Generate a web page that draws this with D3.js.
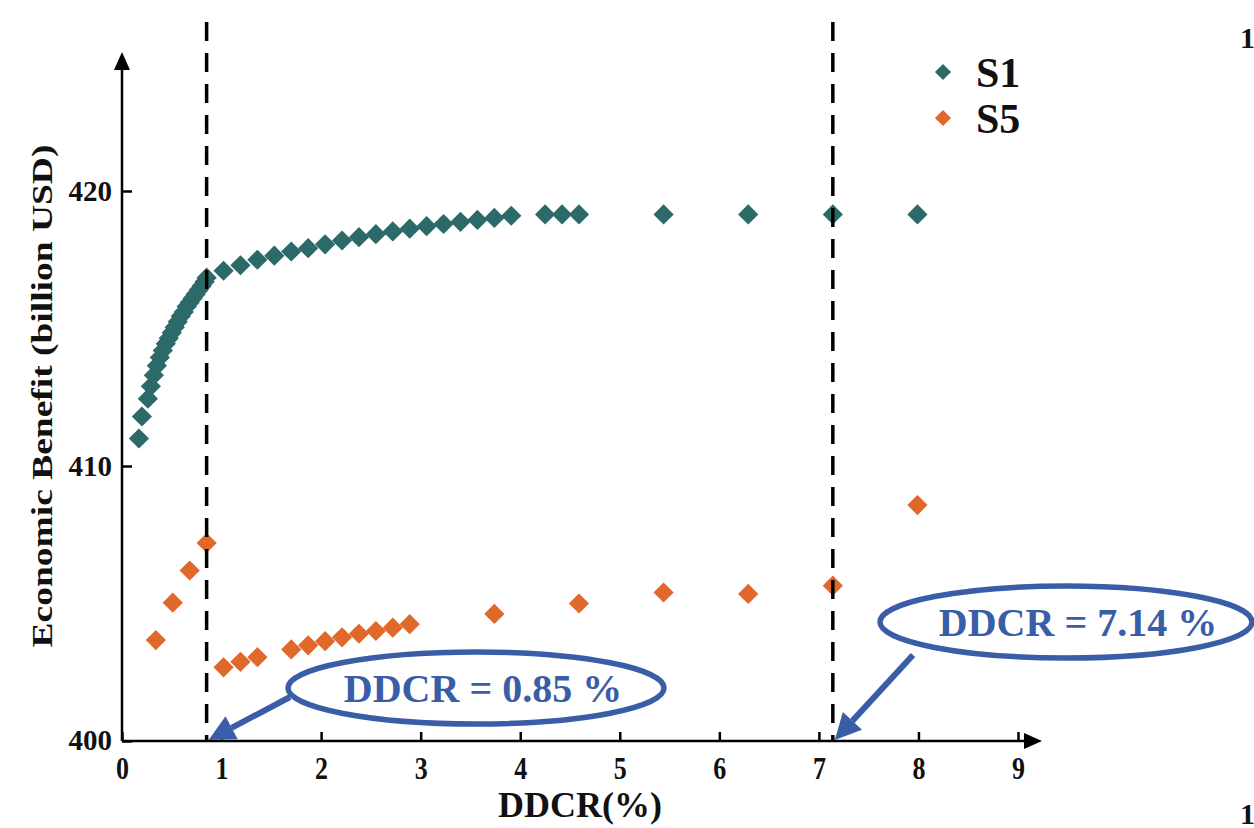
<!DOCTYPE html>
<html lang="en">
<head>
    <meta charset="UTF-8">
    <title>Economic Benefit vs DDCR</title>
    <script src="https://d3js.org/d3.v7.min.js"></script>
    <style>
        body { margin: 0; background: #fff; }
        svg text { font-family: "Liberation Serif", "Times New Roman", serif; font-weight: bold; }
    </style>
</head>
<body>
    <svg width="1254" height="828"></svg>

    <script>
        // S1 series
        const s1X = [0.17, 0.20, 0.26, 0.29, 0.32, 0.35, 0.38, 0.41, 0.44, 0.47, 0.50, 0.53, 0.56, 0.59, 0.62,
            0.65, 0.68, 0.71, 0.74, 0.77, 0.80, 0.83, 0.85,
            1.02, 1.19, 1.36, 1.53, 1.70, 1.87, 2.04, 2.21, 2.38, 2.55, 2.72, 2.89, 3.06, 3.23, 3.40, 3.57, 3.74, 3.91,
            4.25, 4.42, 4.59, 5.44, 6.29, 7.14, 7.99];
        const s1Y = [411.0, 411.8, 412.45, 412.9, 413.3, 413.65, 413.95, 414.2, 414.45, 414.65, 414.85, 415.05, 415.25, 415.45, 415.6,
            415.8, 415.95, 416.1, 416.25, 416.4, 416.55, 416.7, 416.85,
            417.1, 417.3, 417.5, 417.65, 417.8, 417.92, 418.06, 418.2, 418.32, 418.43, 418.53, 418.63, 418.72, 418.8, 418.88, 418.95, 419.02, 419.1,
            419.15, 419.15, 419.15, 419.15, 419.15, 419.15, 419.15];

        // S5 series
        const s5X = [0.34, 0.51, 0.68, 0.85, 1.02, 1.19, 1.36, 1.70, 1.87, 2.04, 2.21, 2.38, 2.55, 2.72, 2.89,
            3.74, 4.59, 5.44, 6.29, 7.14, 7.99];
        const s5Y = [403.67, 405.03, 406.2, 407.2, 402.68, 402.88, 403.05, 403.33, 403.48, 403.63, 403.77, 403.9, 404.0, 404.12, 404.25,
            404.62, 405.0, 405.4, 405.35, 405.65, 408.58];

        const xTicks = [0, 1, 2, 3, 4, 5, 6, 7, 8, 9];
        const yTicks = [400, 410, 420];
        const markLines = [0.85, 7.14];
        const seriesNames = ["S1", "S5"];
        const colors = ["#2b6a69", "#e0682b"];
        const blue = "#3a5da8";

        const svg = d3.select("svg");

        const x = d3.scaleLinear().domain([0, 9]).range([122, 1018]);
        const y = d3.scaleLinear().domain([400, 420]).range([741, 191]);

        // axes
        const xAxis = svg.append("g")
            .attr("transform", `translate(0,${y(400)})`)
            .call(d3.axisBottom(x).tickValues(xTicks).tickSizeInner(-9).tickSizeOuter(0).tickFormat(d3.format("d")));
        xAxis.select(".domain").remove();
        xAxis.selectAll("line").attr("stroke", "#000").attr("stroke-width", 2.5);
        xAxis.selectAll("text")
            .attr("y", 0).attr("dy", null)
            .attr("transform", "translate(0,38) scale(1,1.2)")
            .style("font-size", "26px").attr("fill", "#111");

        const yAxis = svg.append("g")
            .attr("transform", `translate(${x(0)},0)`)
            .call(d3.axisLeft(y).tickValues(yTicks).tickSizeInner(-10).tickSizeOuter(0).tickPadding(10));
        yAxis.select(".domain").remove();
        yAxis.selectAll("line").attr("stroke", "#000").attr("stroke-width", 2.5);
        yAxis.selectAll("text").style("font-size", "29px").attr("fill", "#111");
        yAxis.selectAll(".tick").filter(d => d === 400).select("text").attr("dy", "0.3em");

        // axis lines with arrow heads
        svg.append("line").attr("x1", x(0)).attr("x2", x(0)).attr("y1", y(400)).attr("y2", 66)
            .attr("stroke", "#000").attr("stroke-width", 2.5);
        svg.append("path").attr("d", `M${x(0) - 8},70 L${x(0)},52 L${x(0) + 8},70 Z`).attr("fill", "#000");
        svg.append("line").attr("x1", x(0)).attr("x2", 1028).attr("y1", y(400)).attr("y2", y(400))
            .attr("stroke", "#000").attr("stroke-width", 2.5);
        svg.append("path").attr("d", `M1024,${y(400) - 8} L1042,${y(400)} L1024,${y(400) + 8} Z`).attr("fill", "#000");

        // axis titles
        svg.append("text").attr("x", 580).attr("y", 817).attr("text-anchor", "middle")
            .style("font-size", "36px").attr("fill", "#111").text("DDCR(%)");
        svg.append("text").attr("transform", "translate(52,396) rotate(-90) scale(1.25,1)").attr("text-anchor", "middle")
            .style("font-size", "30px").attr("fill", "#111").text("Economic Benefit (billion USD)");

        // points
        const diamond = d3.symbol().type(d3.symbolSquare).size(205);
        const series = [
            { name: seriesNames[0], pts: s1X.map((v, i) => [v, s1Y[i]]), color: colors[0] },
            { name: seriesNames[1], pts: s5X.map((v, i) => [v, s5Y[i]]), color: colors[1] }
        ];
        series.forEach(s => {
            svg.append("g").selectAll("path").data(s.pts).join("path")
                .attr("d", diamond)
                .attr("transform", d => `translate(${x(d[0])},${y(d[1])}) rotate(45)`)
                .attr("fill", s.color);
        });

        // dashed vertical lines
        markLines.forEach(v => {
            svg.append("line").attr("x1", x(v)).attr("x2", x(v)).attr("y1", 22).attr("y2", y(400))
                .attr("stroke", "#000").attr("stroke-width", 3.5).attr("stroke-dasharray", "19,12");
        });

        // legend
        series.forEach((s, i) => {
            const ly = 72 + i * 46;
            svg.append("path").attr("d", d3.symbol().type(d3.symbolSquare).size(130))
                .attr("transform", `translate(943,${ly}) rotate(45)`).attr("fill", s.color);
            svg.append("text").attr("x", 976).attr("y", ly + 15).style("font-size", "42px")
                .attr("fill", "#111").text(s.name);
        });

        // annotations
        const notes = [
            { cx: 476, cy: 688, rx: 188, ry: 36, dx: 7, label: "DDCR = 0.85 %", from: [290, 697], to: x(0.85) },
            { cx: 1066, cy: 622, rx: 186, ry: 36, dx: 12, label: "DDCR = 7.14 %", from: [913, 655], to: x(7.14) }
        ];
        notes.forEach(n => {
            svg.append("ellipse").attr("cx", n.cx).attr("cy", n.cy).attr("rx", n.rx).attr("ry", n.ry)
                .attr("fill", "none").attr("stroke", blue).attr("stroke-width", 5.5);
            svg.append("text").attr("x", n.cx + n.dx).attr("y", n.cy + 14).attr("text-anchor", "middle")
                .style("font-size", "40px").attr("fill", blue).text(n.label);
            const tx = n.to + 2, ty = y(400) - 1;
            const ang = Math.atan2(ty - n.from[1], tx - n.from[0]);
            const hl = 26, hw = 13;
            const bx = tx - hl * Math.cos(ang), by = ty - hl * Math.sin(ang);
            svg.append("line").attr("x1", n.from[0]).attr("y1", n.from[1]).attr("x2", bx).attr("y2", by)
                .attr("stroke", blue).attr("stroke-width", 6);
            svg.append("path")
                .attr("d", `M${tx},${ty} L${bx + hw * Math.sin(ang)},${by - hw * Math.cos(ang)} L${bx - hw * Math.sin(ang)},${by + hw * Math.cos(ang)} Z`)
                .attr("fill", blue);
        });

        // characters at the right edge
        svg.append("text").attr("x", 1240).attr("y", 48).style("font-size", "30px").attr("fill", "#111").text("1");
        svg.append("text").attr("x", 1240).attr("y", 824).style("font-size", "30px").attr("fill", "#111").text("1");
    </script>
</body>
</html>
